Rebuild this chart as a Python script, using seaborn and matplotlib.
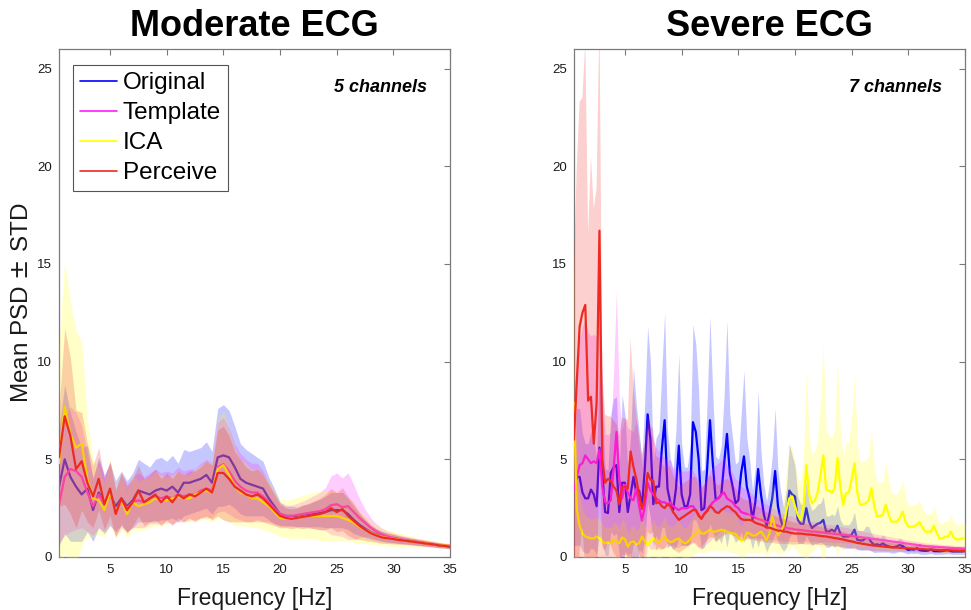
import numpy as np
import pandas as pd
import seaborn as sns
import matplotlib
matplotlib.use("Agg")
import matplotlib.pyplot as plt
from matplotlib.lines import Line2D

# ---------------- data ----------------
labels = ["Original", "Template", "ICA", "Perceive"]
colors = ["#0000ff", "#ff1aff", "#ffff00", "#ee2a22"]
titles = ["Moderate ECG", "Severe ECG"]
channel_notes = ["5 channels", "7 channels"]

freq_mod = np.arange(0.5, 35.01, 0.5)
freq_sev = np.arange(0.5, 35.01, 0.25)

# Moderate ECG (means)
orig_mod = [3.6, 5.0, 4.1, 3.6, 3.2, 3.5, 2.4, 3.3, 2.7, 3.2,
            2.6, 3.0, 2.6, 2.9, 3.4, 3.3, 3.2, 3.4, 3.5, 3.4,
            3.6, 3.3, 3.8, 3.8, 3.9, 4.0, 4.2, 3.8, 5.1, 5.2,
            5.1, 4.6, 4.0, 3.8, 3.7, 3.6, 3.5, 3.0, 2.6, 2.2,
            2.1, 2.1, 2.05, 2.1, 2.15, 2.2, 2.25, 2.3, 2.4, 2.4,
            2.4, 2.2, 1.9, 1.65, 1.45, 1.27, 1.15, 1.05, 0.98, 0.93,
            0.88, 0.84, 0.8, 0.76, 0.72, 0.68, 0.64, 0.6, 0.57, 0.54]
temp_mod = [2.7, 4.1, 4.5, 4.4, 4.1, 3.3, 2.6, 3.2, 2.7, 3.3,
            2.3, 2.9, 2.5, 2.8, 2.9, 2.8, 3.0, 3.1, 3.0, 3.1,
            3.0, 3.2, 3.1, 3.2, 3.2, 3.4, 3.5, 3.4, 4.6, 4.75,
            4.4, 3.9, 3.6, 3.4, 3.3, 3.3, 3.1, 2.8, 2.5, 2.2,
            2.1, 2.1, 2.15, 2.2, 2.25, 2.3, 2.35, 2.45, 2.65, 2.7,
            2.55, 2.6, 2.3, 2.0, 1.75, 1.5, 1.3, 1.15, 1.05, 0.98,
            0.92, 0.87, 0.82, 0.78, 0.74, 0.7, 0.66, 0.62, 0.59, 0.57]
ica_mod = [4.8, 7.7, 6.3, 5.6, 5.8, 4.0, 3.0, 2.9, 2.4, 3.3,
           2.3, 2.9, 2.2, 2.8, 2.6, 2.7, 2.8, 3.0, 2.9, 2.9,
           3.0, 3.1, 3.0, 3.0, 3.2, 3.3, 3.4, 3.3, 4.5, 4.7,
           4.2, 3.6, 3.3, 3.2, 3.0, 3.0, 2.8, 2.6, 2.3, 2.0,
           1.95, 1.95, 2.0, 2.05, 2.1, 2.1, 2.1, 2.1, 2.1, 2.1,
           2.0, 1.9, 1.75, 1.55, 1.4, 1.25, 1.12, 1.03, 0.97, 0.93,
           0.88, 0.84, 0.8, 0.76, 0.72, 0.69, 0.65, 0.62, 0.59, 0.56]
perc_mod = [5.1, 7.2, 6.2, 4.5, 4.9, 3.8, 3.1, 4.0, 2.7, 3.5,
            2.2, 3.0, 2.4, 2.8, 3.4, 2.8, 3.0, 3.2, 2.8, 3.1,
            2.8, 3.2, 3.0, 3.2, 3.1, 3.3, 3.5, 3.3, 4.3, 4.3,
            4.0, 3.6, 3.4, 3.2, 3.1, 3.2, 3.0, 2.7, 2.4, 2.1,
            2.0, 1.95, 2.0, 2.05, 2.1, 2.15, 2.2, 2.3, 2.5, 2.3,
            2.45, 2.1, 1.85, 1.6, 1.4, 1.22, 1.1, 1.0, 0.96, 0.92,
            0.87, 0.84, 0.8, 0.76, 0.72, 0.68, 0.65, 0.6, 0.57, 0.53]

# Moderate ECG (STD)
orig_mod_sd = [3.0, 3.8, 3.3, 2.8, 2.4, 2.2, 1.6, 1.8, 1.5, 1.6,
               1.3, 1.4, 1.3, 1.4, 1.6, 1.5, 1.4, 1.6, 1.6, 1.5,
               1.6, 1.5, 1.7, 1.6, 1.6, 1.6, 1.7, 1.6, 2.5, 2.6,
               2.4, 2.1, 1.8, 1.7, 1.6, 1.5, 1.4, 1.1, 0.9, 0.6,
               0.5, 0.5, 0.5, 0.55, 0.6, 0.65, 0.7, 0.8, 0.9, 0.9,
               0.9, 0.8, 0.7, 0.55, 0.45, 0.35, 0.3, 0.26, 0.23, 0.21,
               0.19, 0.17, 0.16, 0.15, 0.14, 0.13, 0.12, 0.12, 0.11, 0.11]
temp_mod_sd = [2.0, 3.0, 3.2, 3.0, 2.6, 2.0, 1.5, 1.7, 1.4, 1.6,
               1.2, 1.4, 1.2, 1.3, 1.4, 1.3, 1.3, 1.4, 1.3, 1.3,
               1.3, 1.4, 1.3, 1.3, 1.3, 1.4, 1.5, 1.4, 2.3, 2.4,
               2.2, 1.9, 1.7, 1.6, 1.5, 1.5, 1.3, 1.0, 0.8, 0.6,
               0.55, 0.55, 0.6, 0.65, 0.75, 0.85, 0.95, 1.1, 1.5, 1.6,
               1.5, 1.7, 1.4, 1.0, 0.7, 0.5, 0.4, 0.32, 0.27, 0.24,
               0.22, 0.2, 0.18, 0.17, 0.16, 0.15, 0.14, 0.13, 0.12, 0.12]
ica_mod_sd = [6.0, 7.4, 6.8, 6.0, 5.2, 3.0, 2.0, 1.7, 1.4, 1.7,
              1.3, 1.5, 1.2, 1.4, 1.3, 1.3, 1.3, 1.4, 1.3, 1.2,
              1.2, 1.3, 1.2, 1.2, 1.3, 1.4, 1.5, 1.5, 2.5, 2.8,
              2.4, 2.0, 1.7, 1.6, 1.5, 1.5, 1.4, 1.3, 1.1, 0.95,
              0.95, 1.0, 1.05, 1.1, 1.15, 1.2, 1.25, 1.3, 1.3, 1.3,
              1.2, 1.1, 1.0, 0.85, 0.7, 0.6, 0.5, 0.45, 0.42, 0.4,
              0.36, 0.32, 0.28, 0.25, 0.22, 0.2, 0.18, 0.16, 0.15, 0.14]
perc_mod_sd = [2.5, 4.5, 4.0, 3.0, 2.5, 2.0, 1.6, 1.6, 1.3, 1.4,
               1.2, 1.3, 1.2, 1.2, 1.3, 1.2, 1.2, 1.3, 1.2, 1.2,
               1.2, 1.2, 1.2, 1.2, 1.3, 1.3, 1.4, 1.4, 2.2, 2.4,
               2.2, 1.8, 1.6, 1.4, 1.3, 1.3, 1.2, 1.0, 0.8, 0.6,
               0.5, 0.5, 0.5, 0.6, 0.6, 0.7, 0.8, 0.9, 1.0, 1.0,
               1.1, 1.0, 0.9, 0.7, 0.55, 0.42, 0.35, 0.3, 0.27, 0.25,
               0.22, 0.2, 0.18, 0.17, 0.16, 0.15, 0.14, 0.13, 0.12, 0.12]

# Severe ECG (means), 0.25 Hz steps, each row = 1 Hz
orig_sev = [3.6, 4.1, 4.1, 3.3,   3.0, 3.0, 3.45, 3.2,   2.6, 5.6, 4.3, 2.3,
            2.25, 4.3, 4.6, 4.7,  2.3, 3.8, 3.8, 2.3,    3.2, 4.1, 3.3, 3.4,
            2.6, 4.5, 7.3, 6.0,   2.7, 3.6, 3.6, 5.5,    7.0, 3.5, 2.8, 2.4,
            3.5, 5.7, 3.2, 2.6,   2.6, 3.2, 6.9, 6.4,    5.0, 2.4, 2.5, 4.5,
            7.0, 4.8, 2.95, 3.0,  3.2, 4.8, 6.3, 4.3,    3.6, 2.75, 2.9, 4.3,
            5.15, 3.6, 3.0, 1.9,  2.8, 4.5, 3.2, 2.2,    1.56, 2.2, 3.0, 4.4,
            2.6, 1.9, 1.4, 2.0,   3.4, 3.2, 3.1, 1.9,    1.7, 1.7, 2.5, 1.8,
            1.48, 1.6, 1.7, 1.75, 1.9, 1.3, 1.3, 1.4,    1.3, 1.6, 1.2, 1.05,
            1.05, 1.05, 1.15, 1.4, 0.88, 0.85, 0.85, 0.97, 0.97, 0.75, 0.62, 0.65,
            0.6, 0.7, 0.6, 0.55,  0.5, 0.5, 0.55, 0.62,  0.55, 0.45, 0.36, 0.4,
            0.38, 0.45, 0.35, 0.33, 0.32, 0.33, 0.4, 0.3, 0.3, 0.29, 0.3, 0.33,
            0.35, 0.3, 0.28, 0.28, 0.28, 0.28, 0.3]
temp_sev = [3.4, 4.1, 4.7, 4.8,   5.2, 5.0, 4.8, 4.9,    4.8, 5.5, 3.6, 2.8,
            2.75, 2.9, 4.5, 6.4,  4.0, 3.0, 3.7, 3.3,    3.0, 2.9, 3.5, 2.6,
            1.85, 2.6, 3.8, 3.4,  3.2, 3.0, 2.9, 2.8,    2.8, 2.7, 2.8, 2.6,
            2.5, 2.4, 2.5, 2.5,   2.5, 2.6, 2.6, 2.4,    2.2, 2.0, 2.2, 2.4,
            2.6, 2.8, 2.9, 3.0,   3.2, 3.3, 3.0, 2.9,    2.8, 2.6, 2.5, 2.3,
            2.25, 2.2, 2.15, 2.1, 2.0, 1.95, 1.9, 1.85,  1.8, 1.75, 1.7, 1.65,
            1.6, 1.55, 1.5, 1.5,  1.45, 1.45, 1.4, 1.4,  1.38, 1.36, 1.34, 1.32,
            1.3, 1.3, 1.28, 1.26, 1.25, 1.23, 1.21, 1.2, 1.18, 1.16, 1.15, 1.13,
            1.12, 1.1, 1.08, 1.06, 1.04, 1.02, 1.0, 0.98, 0.96, 0.94, 0.92, 0.9,
            0.88, 0.86, 0.84, 0.82, 0.8, 0.78, 0.76, 0.74, 0.72, 0.7, 0.68, 0.66,
            0.64, 0.62, 0.6, 0.58, 0.56, 0.55, 0.54, 0.53, 0.52, 0.51, 0.5, 0.49,
            0.48, 0.47, 0.46, 0.45, 0.45, 0.44, 0.44]
ica_sev = [7.9, 2.4, 1.6, 1.2,    1.05, 1.0, 0.95, 0.95, 1.05, 0.95, 0.8, 0.7,
           0.75, 0.7, 0.88, 0.8,  0.7, 1.0, 0.9, 0.53,   0.75, 0.8, 0.65, 0.7,
           1.05, 0.8, 0.62, 0.8,  0.97, 0.8, 0.75, 0.9,  1.05, 0.85, 0.75, 0.8,
           0.9, 0.95, 0.8, 0.7,   0.75, 0.9, 1.1, 1.2,   1.4, 1.2, 1.2, 1.3,
           1.4, 1.3, 1.3, 1.35,   1.4, 1.35, 1.3, 1.25,  1.2, 1.2, 1.0, 0.8,
           0.9, 1.25, 1.2, 1.1,   1.1, 1.2, 1.3, 1.1,    0.88, 1.2, 2.1, 1.5,
           1.1, 1.3, 1.6, 2.4,    3.0, 3.1, 2.6, 2.15,   1.9, 2.6, 4.7, 3.2,
           2.75, 2.9, 3.3, 4.2,   5.2, 3.45, 3.4, 3.3,   3.5, 5.06, 3.6, 2.67,
           3.27, 3.3, 4.0, 4.8,   3.3, 2.67, 2.7, 2.75,  2.9, 3.52, 2.6, 2.07,
           2.1, 2.15, 2.67, 2.2,  1.81, 1.81, 1.81, 2.0, 2.33, 1.8, 1.55, 1.55,
           1.55, 1.65, 1.78, 1.5, 1.3, 1.3, 1.3, 1.6,    1.25, 0.96, 0.96, 1.04,
           1.04, 1.3, 1.0, 0.9,   0.9, 0.95, 0.96]
perc_sev = [6.0, 9.0, 11.8, 12.5, 12.9, 8.0, 8.2, 5.8,   7.9, 16.7, 5.0, 3.8,
            4.0, 3.9, 3.6, 3.4,   2.7, 3.6, 3.6, 3.5,    5.4, 4.6, 4.0, 3.2,
            2.45, 3.0, 4.3, 3.95, 3.9, 2.75, 2.8, 2.6,   2.5, 2.7, 2.6, 2.3,
            2.1, 1.9, 2.0, 2.1,   2.2, 2.3, 2.4, 2.4,    2.1, 1.95, 2.2, 2.35,
            2.6, 2.5, 2.3, 2.25,  2.4, 2.5, 2.6, 2.55,   2.4, 2.3, 2.1, 1.95,
            1.9, 1.9, 1.9, 1.85,  1.75, 1.7, 1.65, 1.6,  1.5, 1.5, 1.45, 1.4,
            1.35, 1.35, 1.3, 1.3, 1.25, 1.22, 1.2, 1.2,  1.2, 1.18, 1.16, 1.15,
            1.14, 1.12, 1.1, 1.08, 1.06, 1.05, 1.02, 1.0, 0.97, 0.95, 0.92, 0.9,
            0.86, 0.82, 0.8, 0.76, 0.72, 0.7, 0.67, 0.65, 0.62, 0.6, 0.58, 0.57,
            0.55, 0.54, 0.52, 0.51, 0.5, 0.49, 0.48, 0.47, 0.46, 0.45, 0.44, 0.43,
            0.42, 0.41, 0.4, 0.4, 0.39, 0.38, 0.38, 0.37, 0.36, 0.36, 0.35, 0.35,
            0.34, 0.34, 0.33, 0.33, 0.32, 0.32, 0.32]

# Severe ECG (STD)
orig_sev_sd = [3.0, 3.5, 3.5, 3.0,  2.8, 2.8, 3.0, 2.8,  2.5, 4.5, 3.5, 2.2,
               2.2, 3.0, 3.5, 3.5,  2.2, 4.5, 3.5, 2.2,  3.0, 5.6, 4.5, 3.0,
               2.4, 3.5, 4.5, 4.0,  2.2, 2.5, 2.8, 4.0,  5.5, 3.0, 2.2, 2.0,
               3.0, 4.7, 2.6, 2.0,  2.0, 2.5, 5.0, 4.5,  3.5, 2.0, 2.0, 3.5,
               5.3, 3.5, 2.2, 2.0,  2.5, 3.5, 5.8, 3.0,  2.5, 2.0, 2.0, 3.0,
               4.4, 2.5, 2.0, 1.5,  1.8, 4.0, 2.2, 1.5,  1.3, 1.6, 2.2, 3.2,
               1.8, 1.4, 1.1, 1.5,  2.4, 2.0, 1.6, 1.2,  1.0, 1.0, 1.4, 1.0,
               0.9, 0.9, 1.0, 1.0,  1.2, 0.8, 0.8, 0.8,  0.8, 1.0, 0.7, 0.6,
               0.6, 0.6, 0.7, 0.9,  0.5, 0.5, 0.5, 0.6,  0.6, 0.45, 0.4, 0.4,
               0.35, 0.45, 0.35, 0.3, 0.3, 0.3, 0.3, 0.35, 0.3, 0.25, 0.2, 0.2,
               0.2, 0.25, 0.2, 0.2, 0.18, 0.18, 0.22, 0.17, 0.17, 0.16, 0.16, 0.18,
               0.18, 0.16, 0.15, 0.15, 0.15, 0.15, 0.15]
temp_sev_sd = [5.0, 6.0, 6.5, 7.0,  7.0, 6.5, 6.5, 6.5,  6.5, 7.0, 5.0, 3.5,
               3.5, 3.5, 5.0, 7.2,  4.0, 3.5, 3.5, 3.3,  3.5, 3.5, 3.5, 3.0,
               2.8, 3.0, 3.2, 3.0,  2.8, 2.6, 2.5, 2.4,  2.3, 2.2, 2.2, 2.0,
               2.0, 1.9, 1.9, 1.9,  1.9, 1.9, 1.8, 1.8,  1.7, 1.6, 1.6, 1.7,
               1.8, 1.8, 1.8, 1.8,  1.8, 1.8, 1.7, 1.6,  1.5, 1.4, 1.4, 1.3,
               1.3, 1.2, 1.2, 1.1,  1.0, 1.0, 0.95, 0.9, 0.9, 0.85, 0.8, 0.8,
               0.75, 0.7, 0.7, 0.7, 0.65, 0.65, 0.6, 0.6, 0.6, 0.55, 0.55, 0.55,
               0.5, 0.5, 0.5, 0.5,  0.5, 0.45, 0.45, 0.45, 0.45, 0.4, 0.4, 0.4,
               0.4, 0.38, 0.36, 0.35, 0.34, 0.33, 0.32, 0.31, 0.3, 0.29, 0.28, 0.27,
               0.26, 0.25, 0.25, 0.24, 0.23, 0.22, 0.22, 0.21, 0.2, 0.2, 0.19, 0.19,
               0.18, 0.18, 0.17, 0.17, 0.16, 0.16, 0.16, 0.15, 0.15, 0.15, 0.14, 0.14,
               0.14, 0.14, 0.13, 0.13, 0.13, 0.13, 0.13]
ica_sev_sd = [8.0, 2.5, 1.5, 1.2,   1.1, 1.0, 1.0, 1.0,  1.0, 1.0, 0.9, 0.8,
              0.8, 0.8, 0.9, 0.9,   0.8, 0.9, 0.9, 0.7,  0.8, 0.8, 0.7, 0.8,
              1.0, 0.8, 0.7, 0.8,   0.9, 0.8, 0.8, 0.9,  1.0, 0.8, 0.8, 0.8,
              0.9, 0.9, 0.8, 0.8,   0.8, 0.9, 1.0, 1.0,  1.1, 1.0, 1.0, 1.0,
              1.1, 1.0, 1.0, 1.0,   1.1, 1.0, 1.0, 1.0,  1.0, 1.0, 0.9, 0.8,
              0.9, 1.0, 1.0, 0.9,   0.9, 1.0, 1.0, 0.9,  0.8, 1.0, 1.8, 1.2,
              1.0, 1.1, 1.4, 2.0,   2.7, 2.5, 2.2, 1.9,  1.8, 2.5, 5.0, 3.0,
              2.5, 2.5, 2.7, 3.8,   5.7, 3.0, 2.8, 2.8,  3.0, 5.0, 3.0, 2.4,
              2.6, 2.6, 3.2, 4.5,   2.5, 2.2, 2.2, 2.2,  2.3, 3.0, 2.0, 1.7,
              1.7, 1.7, 2.2, 1.8,   1.5, 1.4, 1.4, 1.5,  1.6, 1.3, 1.1, 1.1,
              1.1, 1.1, 1.1, 1.0,   0.9, 0.9, 0.9, 1.0,  0.9, 0.75, 0.75, 0.8,
              0.8, 0.9, 0.8, 0.75,  0.75, 0.8, 0.8]
perc_sev_sd = [9.0, 11.0, 11.5, 11.0, 13.5, 8.5, 12.3, 12.0, 11.0, 11.0, 4.5, 3.5,
               3.2, 3.3, 3.4, 3.4,  3.5, 3.5, 3.5, 3.5,  5.8, 4.0, 3.3, 3.0,
               2.8, 2.8, 3.0, 2.8,  2.6, 2.4, 2.3, 2.2,  2.1, 2.0, 2.0, 1.9,
               1.8, 1.7, 1.7, 1.7,  1.7, 1.7, 1.7, 1.7,  1.6, 1.5, 1.5, 1.5,
               1.6, 1.5, 1.5, 1.4,  1.4, 1.4, 1.4, 1.35, 1.3, 1.25, 1.2, 1.1,
               1.05, 1.0, 1.0, 0.95, 0.9, 0.9, 0.85, 0.8, 0.78, 0.75, 0.72, 0.7,
               0.68, 0.66, 0.64, 0.62, 0.6, 0.58, 0.56, 0.55, 0.54, 0.53, 0.52, 0.51,
               0.5, 0.49, 0.48, 0.47, 0.46, 0.45, 0.44, 0.43, 0.42, 0.41, 0.4, 0.39,
               0.38, 0.37, 0.36, 0.35, 0.34, 0.33, 0.32, 0.31, 0.3, 0.29, 0.28, 0.27,
               0.26, 0.25, 0.24, 0.23, 0.22, 0.21, 0.2, 0.2, 0.19, 0.19, 0.18, 0.18,
               0.17, 0.17, 0.16, 0.16, 0.15, 0.15, 0.15, 0.14, 0.14, 0.14, 0.13, 0.13,
               0.13, 0.12, 0.12, 0.12, 0.12, 0.12, 0.12]

x_ticks = [5, 10, 15, 20, 25, 30, 35]
y_ticks = [0, 5, 10, 15, 20, 25]

panels = [
    (freq_mod, [orig_mod, temp_mod, ica_mod, perc_mod],
     [orig_mod_sd, temp_mod_sd, ica_mod_sd, perc_mod_sd]),
    (freq_sev, [orig_sev, temp_sev, ica_sev, perc_sev],
     [orig_sev_sd, temp_sev_sd, ica_sev_sd, perc_sev_sd]),
]

# ---------------- plot ----------------
sns.set_style("white")
plt.rcParams["font.family"] = ["Liberation Sans", "DejaVu Sans"]

fig = plt.figure(figsize=(9.71, 6.10), dpi=100)
axes = [fig.add_axes([0.0608, 0.0869, 0.4027, 0.8328]),
        fig.add_axes([0.5911, 0.0869, 0.4027, 0.8328])]

spine_col = "#7a7a7a"
for k, (ax, (freq, means, sds)) in enumerate(zip(axes, panels)):
    for i, (lab, col, m, s) in enumerate(zip(labels, colors, means, sds)):
        df = pd.DataFrame({"Frequency": freq, "PSD": np.asarray(m, float)})
        sns.lineplot(data=df, x="Frequency", y="PSD", ax=ax, color=col,
                     lw=1.6, label=lab, zorder=2 + 2 * i)
        mm = np.asarray(m, float)
        ss = np.asarray(s, float)
        ax.fill_between(freq, mm - ss, mm + ss, color=col, alpha=0.22,
                        lw=0, zorder=3 + 2 * i)
    ax.set_xlim(0.5, 35)
    ax.set_ylim(0, 26)
    ax.set_xticks(x_ticks)
    ax.set_yticks(y_ticks)
    ax.tick_params(direction="in", length=4, width=0.8, colors=spine_col,
                   labelcolor="#1a1a1a", labelsize=9.5, top=True, right=True,
                   pad=5)
    for sp in ax.spines.values():
        sp.set_color(spine_col)
        sp.set_linewidth(0.9)
    ax.set_title(titles[k], fontsize=26, fontweight="bold", pad=9,
                 color="black")
    ax.set_xlabel("Frequency [Hz]", fontsize=16.5, color="#1a1a1a", labelpad=8)
    ax.set_ylabel("")
    ax.text(0.94, 0.925, channel_notes[k], transform=ax.transAxes,
            ha="right", va="center", fontsize=13, fontweight="bold",
            fontstyle="italic", color="black")
    leg = ax.get_legend()
    if leg is not None:
        leg.remove()

axes[0].set_ylabel("Mean PSD $\\pm$ STD", fontsize=17.5, color="#1a1a1a",
                   labelpad=3)

handles = [Line2D([], [], color=c, lw=1.2) for c in colors]
leg = axes[0].legend(handles, labels, loc="upper left",
                     bbox_to_anchor=(0.036, 0.969), borderaxespad=0,
                     fontsize=17.5, frameon=True, fancybox=False,
                     edgecolor="#555555", framealpha=1, handlelength=1.5,
                     handletextpad=0.25, labelspacing=0.33, borderpad=0.3)
for t in leg.get_texts():
    t.set_color("black")
leg.get_frame().set_linewidth(0.8)
leg.set_zorder(20)

fig.savefig("out.png", dpi=100)
